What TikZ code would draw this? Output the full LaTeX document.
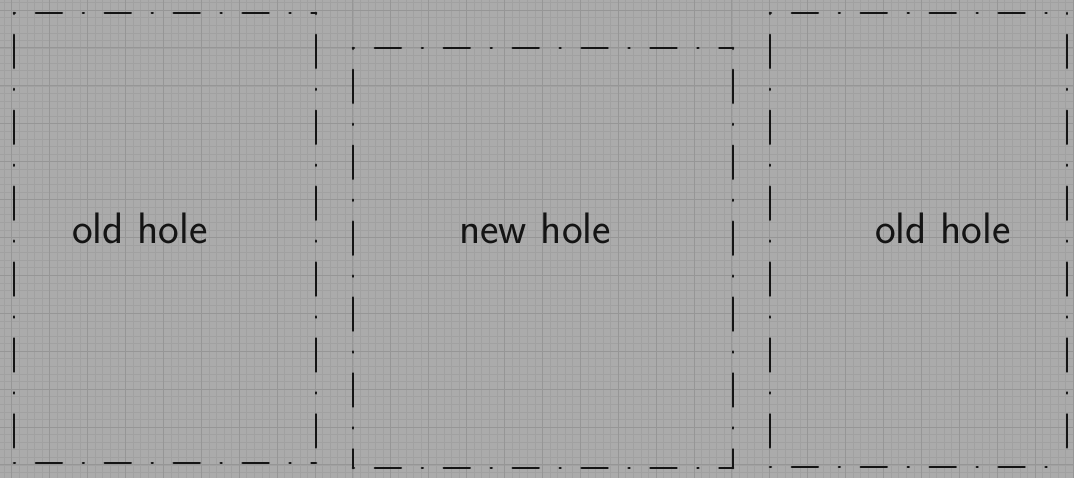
\documentclass[tikz,border=0pt]{standalone}
\usepackage{tikz}

\begin{document}
\begin{tikzpicture}[x=1pt,y=-1pt,
    paper/.style={fill=black!33},
    minorline/.style={black!37, line width=0.45pt},
    majorline/.style={black!41, line width=0.8pt},
    ink/.style={black!92, line width=2.8pt, line cap=round},
    hside/.style={ink, dash pattern=on 0.9pt off 21pt on 26pt off 21pt},
    vside/.style={ink, dash pattern=on 0.9pt off 21pt on 33pt off 21pt},
    holelabel/.style={text=black!92, font=\fontsize{44}{48}\selectfont\sffamily}]
    \def\mj{37.9}
    % squared paper, fixes the page size too
    \fill[paper] (0,0) rectangle (1074,478);
    \useasboundingbox (0,0) rectangle (1074,478);
    \foreach \i in {-1,...,141} {
      \draw[minorline] ({11.7+\i*\mj/5},0) -- ++(0,478);
    }
    \foreach \i in {-2,...,63} {
      \draw[minorline] (0,{10+\i*\mj/5}) -- ++(1074,0);
    }
    \foreach \i in {0,...,28} {
      \draw[majorline] ({11.7+\i*\mj},0) -- ++(0,478);
    }
    \foreach \i in {0,...,12} {
      \draw[majorline] (0,{10+\i*\mj}) -- ++(1074,0);
    }
    % corners of the three holes
    \coordinate (leftnw) at (14,13);   \coordinate (leftse) at (316,463);
    \coordinate (midnw) at (353,48);   \coordinate (midse) at (733,468);
    \coordinate (rightnw) at (770,13); \coordinate (rightse) at (1067,467);
    % old hole on the left
    \draw[hside] (leftnw) -- (leftse |- leftnw);
    \draw[hside] (leftnw |- leftse) -- (leftse);
    \draw[vside] (leftnw) -- (leftnw |- leftse);
    \draw[vside] (leftse |- leftnw) -- (leftse);
    % new hole between them
    \draw[hside] (midnw) -- (midse |- midnw);
    \draw[hside] (midnw |- midse) -- (midse);
    \draw[vside] (midnw) -- (midnw |- midse);
    \draw[vside] (midse |- midnw) -- (midse);
    % old hole on the right
    \draw[hside] (rightnw) -- (rightse |- rightnw);
    \draw[hside] (rightnw |- rightse) -- (rightse);
    \draw[vside] (rightnw) -- (rightnw |- rightse);
    \draw[vside] (rightse |- rightnw) -- (rightse);
    % labels
    \node[holelabel] (leftlabel) at (140,228) {old hole};
    \node[holelabel] (midlabel) at (535,228) {new hole};
    \node[holelabel] (rightlabel) at (943,228) {old hole};
  \end{tikzpicture}
\end{document}
